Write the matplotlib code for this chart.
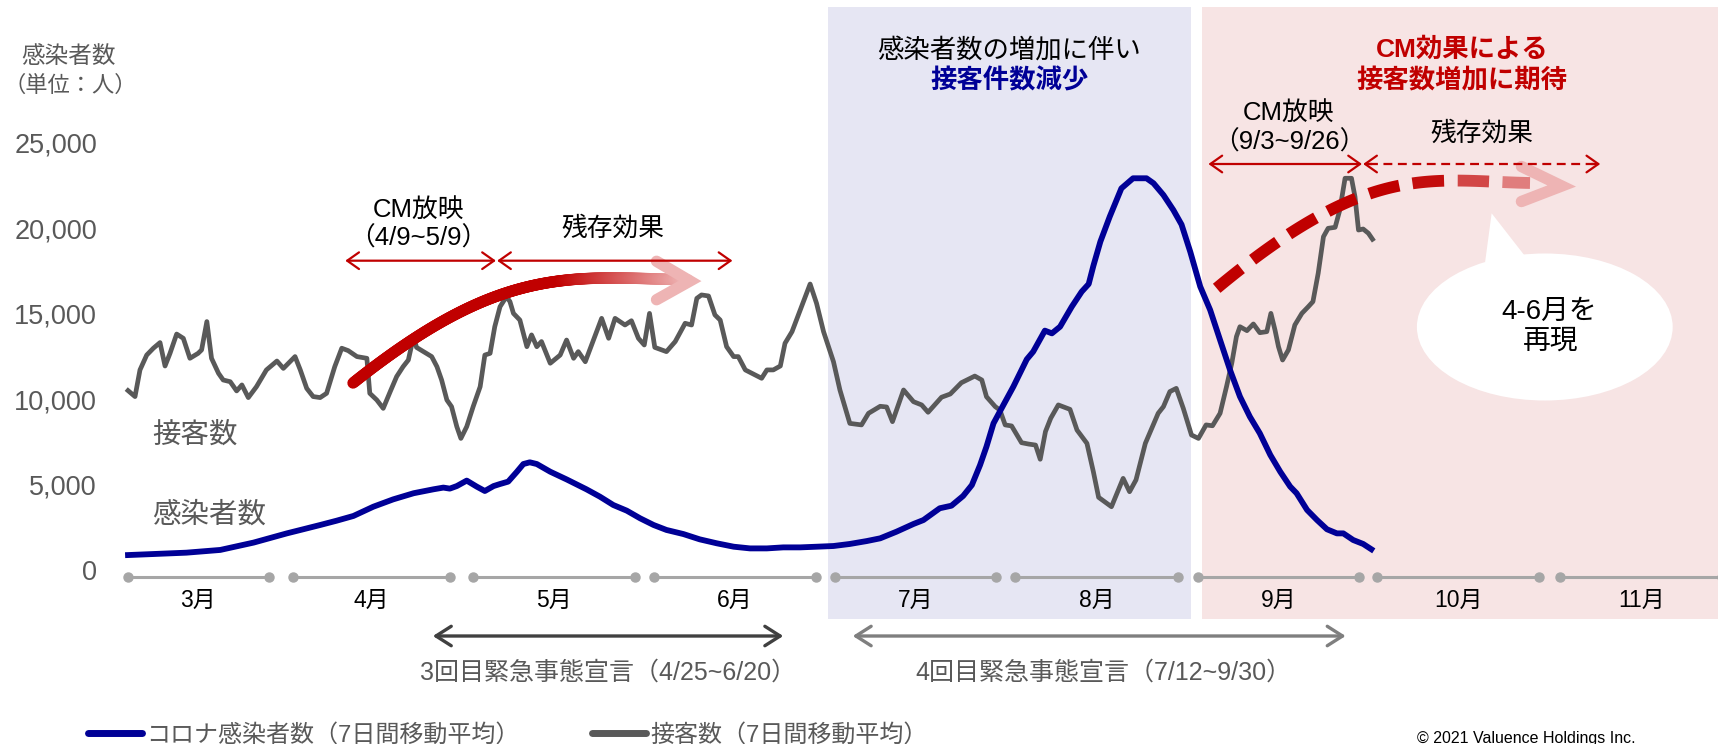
import numpy as np
import matplotlib.pyplot as plt
from matplotlib.collections import LineCollection
from matplotlib.patches import Ellipse, Polygon, Rectangle
from matplotlib.colors import to_rgb

plt.rcParams['font.family'] = ['Liberation Sans', 'Noto Sans CJK JP']

# x = days since 3/1, y = people (7-day moving average)
infect_day = [0, 4.3, 10, 15.8, 21.5, 27.2, 30, 32.9, 35.7, 38.6, 42, 45.4, 48.9, 52.3,
              54, 55.1, 56.3, 58, 59.7, 61.1, 62.6, 63.7, 65.1, 66.6, 67.7, 68.8, 70,
              72.3, 75.1, 78.5, 80.8, 83.1, 85.4, 87.7, 90, 92.2, 95.1, 97.9, 100.8,
              103.7, 106.5, 109.4, 112.2, 115.1, 118, 120.8, 123.6, 126.5, 128.8,
              131.6, 134.5, 136.2, 139, 141, 143, 144.5, 145.9, 147, 148.2, 149.9,
              151.6, 153.9, 155, 157, 158.2, 159.6, 161.6, 163.3, 164.5, 165.3, 166.5,
              168.1, 170.1, 172.1, 174.4, 175.6, 177.3, 179, 180.4, 181.9, 183.6,
              185.3, 187, 188.7, 190.4, 192.1, 193.8, 195.6, 197.3, 199, 200.1, 201.9,
              203.6, 205.3, 207, 208.1, 209.8, 211.5, 212.9]
infect_val = [1050, 1110, 1190, 1350, 1780, 2320, 2560, 2810, 3060, 3340, 3880, 4310, 4670,
              4900, 5000, 4940, 5090, 5410, 5060, 4800, 5090, 5210, 5350, 5930, 6380,
              6480, 6380, 5930, 5480, 4900, 4470, 3980, 3650, 3200, 2810, 2520, 2280,
              1970, 1740, 1540, 1440, 1440, 1500, 1500, 1540, 1580, 1700, 1870, 2030,
              2420, 2870, 3100, 3790, 3940, 4510, 5150, 6320, 7400, 8760, 9840, 10910,
              12510, 12960, 14190, 14030, 14420, 15590, 16470, 16920, 17980, 19400,
              20860, 22520, 23110, 23110, 22820, 22130, 21250, 20400, 18800, 16770,
              15400, 13640, 11890, 10330, 9150, 8180, 6910, 5930, 5060, 4670, 3690,
              3100, 2560, 2320, 2320, 1930, 1700, 1390]

visit_day = [0, 1.2, 2.05, 3.2, 4.34, 5.48, 6.34, 7.19, 8.33, 9.47, 10.6, 12.0, 12.6, 13.5,
             14.3, 15.5, 16.3, 17.5, 18.6, 19.5, 20.6, 22.0, 23.7, 25.5, 26.6, 28.6,
             29.5, 30.6, 31.7, 32.9, 34.0, 35.4, 36.6, 37.7, 39.2, 40.9, 41.4, 42.6,
             43.7, 44.9, 46.0, 47.1, 48.0, 48.9, 49.4, 50.6, 52.0, 52.9, 53.7, 54.6,
             55.4, 56.3, 57.0, 58.0, 59.1, 60.3, 61.1, 62.0, 62.8, 63.7, 64.8, 65.4,
             66.0, 67.1, 68.3, 69.1, 70.0, 70.8, 72.3, 74.0, 75.1, 76.3, 77.1, 78.3,
             79.7, 81.1, 82.3, 83.4, 85.1, 86.2, 87.4, 88.4, 89.3, 90.2, 92.2, 93.7,
             95.4, 96.5, 97.4, 98.2, 99.4, 100.5, 101.4, 102.5, 103.7, 104.5, 105.7,
             108.5, 109.4, 110.5, 111.7, 112.5, 113.7, 116.8, 117.9, 119.1, 120.8,
             121.9, 123.6, 125.6, 126.8, 128.8, 129.9, 130.9, 132.8, 134.5, 135.9,
             137.0, 139.3, 140.8, 142.7, 145.0, 146.2, 147.0, 148.5, 149.3, 150.2,
             151.3, 153.0, 154.2, 155.4, 156.2, 157.1, 158.0, 159.3, 161.3, 162.5,
             164.2, 165.3, 166.2, 168.4, 170.4, 171.5, 172.6, 174.2, 176.4, 177.3,
             178.4, 179.5, 180.7, 182.1, 183.3, 184.6, 185.7, 187.0, 188.1, 189.0,
             189.8, 190.4, 191.6, 192.7, 193.8, 195.0, 195.7, 196.4, 197.0, 197.7,
             198.7, 199.8, 201.0, 202.1, 202.9, 203.8, 204.7, 205.5, 206.7, 207.5,
             208.4, 209.5, 210.1, 210.7, 211.5, 212.4, 213.1]
visit_val = [10680, 10330, 11890, 12760, 13160, 13490, 12120, 12860, 13990, 13740, 12570,
             12860, 13060, 14720, 12570, 11690, 11300, 11200, 10660, 11010, 10270, 10910,
             11890, 12410, 11980, 12670, 11890, 10810, 10330, 10270, 10520, 12080, 13160,
             13020, 12670, 12570, 10520, 10130, 9640, 10620, 11500, 12080, 12470, 13840,
             13210, 12960, 12670, 12080, 11300, 10130, 9740, 8570, 7880, 8570, 9740,
             10910, 12760, 12860, 14420, 15590, 16180, 15890, 15200, 14810, 13250, 13940,
             13250, 13550, 12280, 12760, 13640, 12570, 12960, 12370, 13640, 14910, 13740,
             14910, 14520, 14770, 13740, 13350, 15200, 13210, 12960, 13550, 14620, 14520,
             16080, 16280, 16220, 15110, 14810, 13250, 12670, 12670, 11890, 11400, 11890,
             11890, 12120, 13450, 14130, 16920, 15790, 14130, 12370, 10720, 8760, 8670,
             9350, 9760, 9720, 8860, 10715, 10030, 9840, 9410, 10290, 10480, 11140, 11530,
             11300, 10320, 9740, 9540, 8670, 8610, 7630, 7550, 7490, 6660, 8280, 9060,
             9840, 9580, 8370, 7590, 5930, 4430, 3880, 5540, 4760, 5450, 7590, 9350, 9740,
             10620, 10810, 9640, 8080, 7880, 8670, 8620, 9350, 10910, 12280, 13840, 14420,
             14190, 14580, 14070, 14130, 15200, 14230, 13250, 12470, 13060, 14520, 15200,
             15590, 15890, 17550, 19690, 20180, 20240, 21250, 23110, 23110, 22030, 20080,
             20140, 19890, 19540]

months = ['3月', '4月', '5月', '6月', '7月', '8月', '9月', '10月', '11月']
month_spans = [(0.0, 24.1), (28.3, 55.1), (59.1, 86.8), (90.1, 117.8), (121.1, 148.6),
               (151.9, 179.8), (183.2, 210.8), (213.9, 241.6), (245.2, 273.0)]
ytick_vals = [0, 5000, 10000, 15000, 20000, 25000]

NAVY = '#000096'
GRAY = '#595959'
RED = '#C00000'
PINK = '#EEB4B4'

fig = plt.figure(figsize=(17.18, 7.44), dpi=100)
ax = fig.add_axes([0, 0, 1, 1])
ax.set_xlim(-21.92, 272.26)
ax.set_ylim(-10012, 33548)
ax.axis('off')

# shaded periods
ax.add_patch(Rectangle((119.9, -2711), 62.1, 35867, fc='#E6E6F3', ec='none', zorder=0))
ax.add_patch(Rectangle((183.9, -2711), 90, 35867, fc='#F7E4E4', ec='none', zorder=0))

# y tick labels and unit
for v in ytick_vals:
    ax.text(-5.3, v, f'{v:,}', ha='right', va='center', fontsize=19.5, color=GRAY)
ax.text(-10.2, 30183, '感染者数', ha='center', va='center', fontsize=17, color=GRAY)
ax.text(-9.9, 28484, '（単位：人）', ha='center', va='center', fontsize=16, color=GRAY)

# month timeline
for name, (a, b) in zip(months, month_spans):
    ax.plot([a, b], [-234, -234], color='#A6A6A6', lw=2.2, marker='o', ms=6.5,
            solid_capstyle='butt', zorder=2)
    ax.text((a + b) / 2, -1581, name, ha='center', va='center', fontsize=16.5, color='black')

# data lines
ax.plot(visit_day, visit_val, color=GRAY, lw=3.4, solid_joinstyle='round', zorder=3)
ax.plot(infect_day, infect_val, color=NAVY, lw=4.2, solid_joinstyle='round', zorder=3)
ax.text(4.1, 8050, '接客数', ha='left', va='center', fontsize=20.5, color=GRAY)
ax.text(4.1, 3396, '感染者数', ha='left', va='center', fontsize=20.5, color=GRAY)


def bezier(p0, p1, p2, p3, n=300):
    p0, p1, p2, p3 = (np.array(p, float) for p in (p0, p1, p2, p3))
    t = np.linspace(0, 1, n)[:, None]
    return (1 - t) ** 3 * p0 + 3 * (1 - t) ** 2 * t * p1 + 3 * (1 - t) * t ** 2 * p2 + t ** 3 * p3


def fade(x, x0, x1):
    f = np.clip((np.asarray(x) - x0) / (x1 - x0), 0, 1)[..., None]
    return (1 - f) * np.array(to_rgb(RED)) + f * np.array(to_rgb(PINK))


# solid gradient arrow (April campaign)
pts = bezier((38.53, 11124), (63.90, 18021), (75.34, 17365), (95.89, 17155))
segs = np.stack([pts[:-1], pts[1:]], axis=1)
mid = (pts[:-1, 0] + pts[1:, 0]) / 2
ax.add_collection(LineCollection(segs, colors=fade(mid, 74, 96), linewidths=8.2,
                                 capstyle='round', zorder=5))
ax.plot([90.5, 96.23, 90.5], [18250, 17096, 16000], color=PINK, lw=8.2,
        solid_capstyle='round', solid_joinstyle='miter', zorder=5)

# dashed gradient arrow (September campaign)
pts = bezier((186.42, 16669), (212.72, 24163), (222.95, 22951), (240.07, 22834), n=600)
disp = ax.transData.transform(pts)
s = np.concatenate([[0], np.cumsum(np.hypot(*np.diff(disp, axis=0).T))])
dash, gap = 32, 13
start = 0.0
while start < s[-1]:
    sel = (s >= start) & (s <= min(start + dash, s[-1]))
    if sel.sum() > 1:
        seg = pts[sel]
        c = fade(seg[len(seg) // 2, 0], 221, 245)
        ax.plot(seg[:, 0], seg[:, 1], color=c, lw=8.5, solid_capstyle='butt', zorder=5)
    start += dash + gap
ax.plot([238.6, 245.5, 238.6], [23800, 22658, 21750], color=PINK, lw=8.2,
        solid_capstyle='round', solid_joinstyle='miter', zorder=5)

# bubble
ax.add_patch(Ellipse((242.6, 14403), 43.8, 8607, fc='white', ec='none', zorder=4))
ax.add_patch(Polygon([(233.5, 21060), (232.2, 17740), (240.0, 18208)], closed=True,
                     fc='white', ec='none', zorder=4))
ax.text(243.3, 15299, '4-6月を', ha='center', va='center', fontsize=20, zorder=6)
ax.text(243.6, 13542, '再現', ha='center', va='center', fontsize=20, zorder=6)

thin = dict(arrowstyle='<->,head_length=0.85,head_width=0.6', color=RED, lw=1.6,
            shrinkA=0, shrinkB=0)
ax.annotate('', xy=(63.0, 18285), xytext=(37.2, 18285), arrowprops=thin, zorder=6)
ax.annotate('', xy=(103.5, 18285), xytext=(63.2, 18285), arrowprops=thin, zorder=6)
ax.annotate('', xy=(211.3, 23946), xytext=(185.0, 23946), arrowprops=thin, zorder=6)
ax.plot([212.5, 251.0], [23946, 23946], color=RED, lw=1.6, ls=(0, (4, 2.5)), zorder=6)
head = dict(arrowstyle='->,head_length=0.85,head_width=0.6', color=RED, lw=1.6,
            shrinkA=0, shrinkB=0)
ax.annotate('', xy=(211.5, 23946), xytext=(213.0, 23946), arrowprops=head, zorder=6)
ax.annotate('', xy=(252.1, 23946), xytext=(250.6, 23946), arrowprops=head, zorder=6)

ax.text(49.7, 21253, 'CM放映', ha='center', va='center', fontsize=18.5)
ax.text(49.7, 19614, '（4/9~5/9）', ha='center', va='center', fontsize=18.5)
ax.text(83.0, 20199, '残存効果', ha='center', va='center', fontsize=18.5)
ax.text(198.8, 26932, 'CM放映', ha='center', va='center', fontsize=18.5)
ax.text(198.8, 25234, '（9/3~9/26）', ha='center', va='center', fontsize=18.5)
ax.text(231.8, 25761, '残存効果', ha='center', va='center', fontsize=18.5)

ax.text(150.8, 30621, '感染者数の増加に伴い', ha='center', va='center', fontsize=19)
ax.text(151.0, 28806, '接客件数減少', ha='center', va='center', fontsize=19,
        color=NAVY, fontweight='bold')
ax.text(228.4, 30621, 'CM効果による', ha='center', va='center', fontsize=19,
        color=RED, fontweight='bold')
ax.text(228.4, 28806, '接客数増加に期待', ha='center', va='center', fontsize=19,
        color=RED, fontweight='bold')

# emergency declarations
decl = dict(arrowstyle='<->,head_length=1.1,head_width=0.7', lw=2.4, shrinkA=0, shrinkB=0)
ax.annotate('', xy=(112.2, -3689), xytext=(52.2, -3689),
            arrowprops=dict(decl, color='#404040'))
ax.annotate('', xy=(208.5, -3689), xytext=(124.1, -3689),
            arrowprops=dict(decl, color='#7F7F7F'))
ax.text(82.2, -5837, '3回目緊急事態宣言（4/25~6/20）', ha='center', va='center',
        fontsize=18, color=GRAY)
ax.text(167.1, -5837, '4回目緊急事態宣言（7/12~9/30）', ha='center', va='center',
        fontsize=18, color=GRAY)

# legend
ax.plot([-6.85, 2.4], [-9368, -9368], color=NAVY, lw=5, solid_capstyle='round')
ax.text(3.1, -9485, 'コロナ感染者数（7日間移動平均）', ha='left', va='center',
        fontsize=17.3, color=GRAY)
ax.plot([79.5, 88.7], [-9368, -9368], color=GRAY, lw=5, solid_capstyle='round')
ax.text(89.4, -9485, '接客数（7日間移動平均）', ha='left', va='center',
        fontsize=17.3, color=GRAY)
ax.text(220.7, -9953, '© 2021 Valuence Holdings Inc.', ha='left', va='baseline',
        fontsize=11.5, color='black')

fig.savefig('out.png', dpi=100)
